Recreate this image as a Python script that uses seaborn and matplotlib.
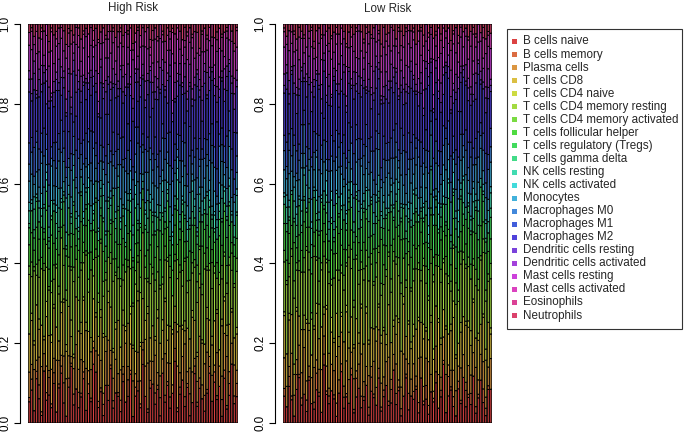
import colorsys
import numpy as np
import pandas as pd
import matplotlib
matplotlib.use("Agg")
import matplotlib.pyplot as plt
import seaborn as sns
from matplotlib.patches import Rectangle

# ---------------- data ----------------
CELL_TYPES = ["B cells naive", "B cells memory", "Plasma cells", "T cells CD8",
              "T cells CD4 naive", "T cells CD4 memory resting",
              "T cells CD4 memory activated", "T cells follicular helper",
              "T cells regulatory (Tregs)", "T cells gamma delta",
              "NK cells resting", "NK cells activated", "Monocytes",
              "Macrophages M0", "Macrophages M1", "Macrophages M2",
              "Dendritic cells resting", "Dendritic cells activated",
              "Mast cells resting", "Mast cells activated", "Eosinophils",
              "Neutrophils"]
GROUP_TITLES = ["High Risk", "Low Risk"]
Y_TICKS = [0.0, 0.2, 0.4, 0.6, 0.8, 1.0]
Y_TICK_LABELS = ["0.0", "0.2", "0.4", "0.6", "0.8", "1.0"]

# High Risk samples (relative amounts, %)
HR_B_NAIVE = [5, 9, 3, 12, 7, 2, 15, 6, 8, 4, 11, 3, 9, 14, 6, 2, 8, 17, 5, 10, 4, 7, 13, 3, 9, 6, 18, 12, 5, 8, 2, 10, 6, 15, 4, 9, 7, 3, 11, 5, 8, 13, 2, 6, 10, 4, 16, 7, 3, 9, 12, 5, 8, 2, 14, 6, 10, 4, 7, 19, 3, 8, 11, 5, 9, 2, 6, 13, 4, 10, 7, 3, 8, 15, 5, 12, 6, 9, 2, 11, 4, 7, 17, 5, 8]
HR_B_MEMORY = [1, 3, 0, 2, 4, 1, 0, 2, 5, 1, 3, 0, 1, 2, 6, 0, 2, 1, 3, 0, 4, 1, 2, 0, 3, 1, 5, 0, 2, 1, 3, 0, 4, 1, 2, 0, 1, 3, 2, 0, 5, 1, 0, 2, 3, 1, 4, 0, 1, 2, 0, 3, 1, 5, 0, 2, 1, 3, 0, 4, 1, 2, 0, 3, 1, 6, 0, 2, 1, 3, 0, 4, 1, 2, 0, 3, 1, 0, 5, 2, 1, 3, 0, 2, 4]
HR_PLASMA = [6, 4, 10, 3, 8, 12, 5, 7, 2, 9, 4, 14, 6, 3, 8, 11, 5, 2, 7, 13, 6, 9, 3, 10, 4, 8, 2, 5, 15, 7, 3, 9, 12, 4, 6, 10, 5, 8, 2, 14, 4, 7, 11, 3, 9, 6, 2, 8, 13, 5, 7, 10, 3, 6, 4, 12, 5, 9, 2, 8, 11, 4, 6, 16, 3, 7, 9, 2, 5, 12, 4, 8, 10, 3, 6, 2, 11, 5, 7, 9, 14, 3, 6, 8, 4]
HR_CD8 = [9, 12, 6, 15, 8, 11, 4, 13, 10, 7, 14, 9, 5, 12, 16, 8, 11, 6, 3, 14, 10, 7, 18, 9, 12, 5, 13, 8, 6, 11, 15, 4, 10, 12, 7, 9, 14, 6, 11, 3, 13, 8, 10, 5, 16, 9, 12, 7, 14, 6, 11, 4, 13, 9, 8, 15, 6, 10, 12, 5, 9, 13, 7, 4, 11, 8, 16, 10, 6, 14, 12, 5, 9, 11, 7, 13, 10, 4, 15, 8, 6, 12, 9, 7, 11]
HR_CD4_NAIVE = [0, 2, 1, 0, 3, 0, 1, 4, 0, 2, 1, 0, 0, 3, 1, 2, 0, 5, 1, 0, 0, 3, 1, 2, 0, 4, 0, 1, 0, 2, 1, 0, 3, 0, 1, 2, 0, 0, 4, 1, 0, 2, 1, 0, 3, 1, 0, 5, 2, 0, 0, 1, 2, 0, 3, 1, 4, 0, 1, 0, 2, 0, 1, 3, 0, 0, 2, 0, 1, 4, 1, 0, 3, 0, 2, 0, 1, 0, 2, 1, 3, 0, 1, 0, 2]
HR_CD4_MEM_REST = [14, 10, 17, 8, 12, 15, 19, 9, 13, 11, 7, 16, 12, 18, 10, 13, 9, 15, 20, 11, 8, 14, 10, 16, 12, 19, 7, 13, 11, 17, 10, 15, 9, 12, 18, 14, 11, 16, 8, 13, 17, 10, 12, 15, 9, 13, 18, 11, 7, 14, 16, 12, 9, 15, 10, 11, 17, 13, 8, 14, 12, 15, 10, 18, 9, 16, 11, 14, 12, 7, 13, 19, 10, 15, 11, 14, 8, 16, 12, 10, 9, 15, 11, 13, 17]
HR_CD4_MEM_ACT = [2, 4, 1, 3, 5, 0, 2, 6, 1, 3, 4, 1, 2, 0, 5, 3, 2, 1, 4, 0, 6, 2, 3, 1, 4, 0, 5, 2, 3, 1, 4, 2, 0, 3, 6, 1, 3, 2, 4, 0, 2, 5, 1, 3, 2, 4, 0, 3, 1, 5, 2, 3, 6, 1, 2, 4, 1, 3, 0, 2, 5, 2, 4, 1, 3, 0, 3, 2, 5, 1, 3, 4, 1, 2, 6, 2, 0, 3, 4, 1, 3, 2, 5, 1, 4]
HR_TFH = [5, 8, 4, 10, 6, 3, 7, 9, 5, 12, 6, 4, 8, 3, 7, 10, 5, 6, 9, 4, 7, 11, 3, 6, 8, 5, 9, 4, 12, 6, 8, 3, 7, 5, 10, 4, 6, 9, 7, 3, 8, 5, 11, 6, 4, 7, 9, 3, 8, 5, 10, 6, 4, 7, 12, 5, 8, 3, 6, 9, 4, 7, 10, 5, 6, 8, 3, 9, 4, 7, 11, 6, 5, 8, 3, 7, 4, 9, 6, 10, 5, 8, 3, 7, 6]
HR_TREGS = [4, 6, 3, 7, 5, 8, 2, 5, 6, 4, 9, 3, 6, 5, 7, 2, 6, 4, 8, 5, 3, 7, 5, 4, 10, 6, 3, 7, 5, 2, 8, 4, 6, 3, 7, 5, 9, 4, 6, 3, 7, 5, 2, 8, 4, 6, 3, 7, 5, 9, 4, 6, 3, 8, 5, 2, 7, 4, 6, 5, 9, 3, 5, 7, 4, 6, 8, 2, 5, 3, 7, 4, 6, 9, 5, 3, 6, 4, 7, 2, 8, 5, 6, 3, 7]
HR_TGD = [1, 0, 2, 1, 0, 3, 1, 0, 2, 1, 0, 4, 1, 0, 2, 1, 0, 3, 1, 0, 2, 1, 0, 1, 5, 0, 2, 1, 0, 3, 1, 0, 2, 1, 0, 4, 1, 0, 2, 1, 0, 3, 1, 0, 2, 1, 0, 1, 4, 0, 2, 1, 0, 3, 1, 0, 2, 1, 0, 1, 3, 0, 2, 1, 0, 1, 4, 0, 2, 1, 0, 1, 3, 0, 2, 1, 0, 2, 1, 0, 5, 1, 0, 2, 1]
HR_NK_REST = [3, 2, 5, 1, 4, 2, 6, 3, 1, 4, 2, 3, 5, 2, 1, 4, 3, 2, 6, 3, 1, 4, 2, 3, 5, 2, 1, 4, 3, 2, 6, 3, 1, 4, 2, 3, 5, 2, 1, 4, 3, 2, 7, 3, 1, 4, 2, 3, 5, 2, 1, 4, 3, 2, 6, 3, 1, 4, 2, 3, 5, 2, 1, 4, 3, 2, 6, 3, 1, 4, 2, 3, 5, 2, 1, 4, 3, 2, 6, 3, 1, 4, 2, 3, 5]
HR_NK_ACT = [2, 1, 3, 0, 2, 4, 1, 2, 3, 0, 1, 2, 5, 1, 3, 0, 2, 1, 4, 2, 3, 0, 2, 1, 3, 5, 2, 0, 1, 2, 3, 1, 4, 2, 0, 2, 3, 1, 0, 4, 2, 1, 3, 2, 5, 0, 2, 1, 3, 2, 4, 1, 0, 2, 3, 1, 2, 4, 1, 0, 3, 2, 1, 5, 2, 0, 3, 2, 1, 2, 4, 0, 1, 3, 2, 1, 2, 0, 4, 1, 3, 2, 1, 0, 2]
HR_MONO = [5, 7, 3, 6, 4, 8, 5, 2, 6, 9, 4, 5, 7, 3, 6, 10, 4, 5, 3, 7, 6, 2, 8, 5, 4, 7, 6, 3, 9, 5, 4, 8, 5, 2, 6, 7, 3, 5, 10, 4, 6, 5, 8, 3, 7, 4, 6, 2, 5, 9, 5, 7, 4, 6, 3, 8, 5, 6, 4, 7, 3, 9, 5, 6, 4, 7, 2, 5, 8, 6, 4, 5, 7, 3, 10, 6, 4, 5, 7, 3, 5, 8, 4, 6, 5]
HR_M0 = [4, 6, 2, 8, 5, 3, 9, 4, 6, 2, 7, 5, 3, 10, 4, 6, 2, 8, 5, 3, 9, 4, 6, 2, 7, 5, 11, 3, 6, 4, 2, 7, 5, 8, 3, 6, 4, 9, 2, 5, 7, 3, 6, 4, 12, 5, 2, 8, 6, 3, 4, 7, 5, 2, 9, 6, 3, 5, 8, 4, 2, 6, 4, 7, 5, 10, 3, 6, 4, 2, 8, 5, 3, 6, 4, 7, 2, 9, 5, 3, 6, 4, 8, 2, 5]
HR_M1 = [5, 4, 7, 3, 6, 5, 8, 4, 6, 3, 5, 7, 4, 9, 5, 3, 6, 5, 4, 8, 5, 3, 7, 6, 4, 9, 5, 3, 6, 7, 4, 5, 8, 3, 6, 5, 4, 7, 6, 3, 8, 5, 4, 6, 5, 7, 3, 6, 4, 8, 5, 6, 3, 7, 4, 6, 5, 9, 3, 5, 4, 7, 5, 6, 3, 8, 4, 5, 7, 6, 3, 5, 4, 8, 5, 6, 7, 3, 5, 4, 9, 5, 6, 4, 7]
HR_M2 = [12, 10, 14, 9, 15, 11, 13, 8, 16, 12, 10, 14, 11, 7, 13, 15, 9, 12, 14, 10, 13, 11, 16, 8, 12, 10, 14, 12, 15, 9, 13, 11, 8, 14, 12, 16, 10, 13, 9, 15, 11, 12, 14, 10, 8, 13, 15, 11, 12, 9, 14, 10, 13, 16, 11, 12, 8, 15, 11, 13, 10, 14, 12, 9, 16, 11, 13, 10, 15, 12, 8, 14, 11, 13, 10, 15, 12, 9, 14, 11, 13, 10, 16, 12, 14]
HR_DC_REST = [3, 2, 4, 1, 5, 2, 3, 6, 2, 1, 4, 3, 2, 5, 3, 1, 4, 2, 3, 7, 2, 3, 1, 4, 2, 5, 3, 2, 1, 4, 3, 6, 2, 3, 1, 4, 2, 5, 3, 2, 1, 3, 4, 2, 6, 3, 1, 2, 4, 3, 5, 2, 3, 1, 4, 2, 6, 3, 2, 1, 4, 3, 2, 5, 3, 1, 2, 4, 3, 2, 6, 3, 1, 4, 2, 3, 5, 2, 1, 3, 4, 2, 3, 6, 2]
HR_DC_ACT = [2, 4, 3, 1, 3, 5, 2, 3, 4, 1, 3, 2, 6, 3, 2, 4, 1, 3, 2, 5, 3, 4, 2, 1, 3, 2, 6, 3, 4, 2, 1, 3, 5, 2, 4, 3, 2, 1, 4, 3, 6, 2, 3, 1, 4, 2, 3, 5, 2, 1, 3, 4, 2, 6, 3, 1, 2, 4, 3, 5, 2, 3, 1, 4, 2, 5, 3, 2, 1, 3, 4, 2, 6, 3, 1, 2, 4, 3, 2, 5, 3, 1, 2, 4, 3]
HR_MAST_REST = [6, 8, 4, 10, 5, 7, 3, 9, 6, 11, 5, 7, 4, 8, 6, 12, 5, 7, 3, 9, 6, 4, 8, 10, 5, 7, 3, 6, 9, 4, 11, 6, 5, 8, 7, 4, 9, 6, 3, 10, 5, 7, 12, 6, 4, 8, 5, 9, 7, 3, 6, 10, 4, 8, 5, 7, 6, 3, 11, 6, 9, 4, 7, 5, 8, 6, 12, 5, 4, 7, 10, 3, 6, 8, 5, 4, 9, 7, 6, 3, 8, 5, 10, 4, 7]
HR_MAST_ACT = [3, 5, 2, 6, 4, 2, 7, 3, 4, 5, 8, 2, 4, 3, 6, 4, 3, 9, 2, 5, 3, 6, 4, 2, 7, 5, 2, 4, 10, 3, 4, 5, 2, 6, 3, 7, 4, 3, 5, 2, 4, 6, 3, 2, 8, 3, 5, 4, 6, 2, 7, 3, 5, 4, 2, 6, 4, 2, 5, 9, 3, 5, 4, 2, 6, 4, 3, 7, 5, 2, 5, 6, 3, 4, 2, 8, 3, 5, 4, 6, 2, 4, 3, 7, 5]
HR_EOS = [0, 1, 0, 2, 0, 1, 0, 0, 3, 1, 0, 2, 0, 1, 0, 0, 1, 4, 0, 1, 2, 0, 1, 0, 0, 1, 3, 0, 1, 0, 0, 1, 2, 0, 1, 0, 0, 1, 3, 0, 1, 0, 2, 0, 1, 0, 1, 0, 0, 2, 3, 0, 1, 0, 1, 0, 2, 0, 1, 0, 1, 0, 0, 4, 1, 0, 1, 2, 0, 0, 1, 0, 1, 0, 3, 0, 2, 0, 1, 0, 1, 0, 0, 2, 1]
HR_NEUTRO = [2, 1, 3, 0, 4, 1, 2, 0, 5, 1, 3, 2, 1, 0, 2, 6, 1, 2, 3, 0, 1, 4, 2, 1, 3, 0, 2, 1, 5, 2, 1, 3, 0, 2, 1, 4, 2, 1, 3, 0, 2, 1, 6, 2, 1, 3, 0, 2, 1, 4, 2, 1, 3, 0, 2, 5, 1, 2, 1, 3, 0, 2, 4, 1, 2, 1, 3, 0, 2, 7, 2, 1, 3, 1, 0, 4, 2, 1, 3, 2, 1, 0, 2, 5, 1]

# Low Risk samples (relative amounts, %)
LR_B_NAIVE = [7, 4, 11, 6, 2, 9, 14, 5, 8, 3, 12, 6, 4, 10, 7, 3, 16, 8, 5, 11, 6, 2, 9, 13, 4, 8, 5, 15, 3, 7, 10, 4, 6, 12, 2, 9, 7, 5, 14, 3, 8, 11, 4, 6, 17, 5, 9, 2, 7, 12, 4, 8, 6, 10, 3, 13, 5, 7, 2, 9, 6, 11, 4, 8, 15, 3, 7, 10, 5, 2, 9, 6, 12, 4, 8, 5, 14, 3, 7, 10, 6, 2, 9, 11]
LR_B_MEMORY = [2, 0, 3, 1, 0, 4, 1, 2, 0, 3, 1, 0, 2, 5, 1, 0, 3, 1, 2, 0, 1, 4, 0, 2, 3, 1, 0, 2, 1, 5, 0, 3, 1, 0, 2, 4, 1, 0, 3, 1, 2, 0, 1, 4, 0, 3, 1, 2, 0, 1, 5, 0, 2, 1, 3, 0, 1, 4, 2, 0, 1, 3, 0, 2, 1, 0, 5, 1, 3, 0, 2, 1, 0, 4, 1, 3, 0, 2, 1, 0, 4, 2, 1, 0]
LR_PLASMA = [8, 5, 3, 11, 6, 4, 9, 7, 13, 5, 3, 8, 10, 4, 6, 12, 5, 7, 2, 9, 6, 14, 4, 8, 3, 10, 6, 5, 9, 2, 7, 11, 4, 6, 8, 3, 9, 5, 12, 6, 4, 7, 10, 3, 5, 8, 2, 6, 11, 4, 9, 5, 7, 3, 13, 6, 4, 8, 10, 5, 2, 7, 9, 4, 6, 11, 3, 5, 8, 7, 4, 10, 6, 2, 9, 5, 7, 12, 4, 6, 8, 3, 5, 10]
LR_CD8 = [11, 8, 14, 10, 6, 13, 9, 12, 5, 15, 10, 7, 11, 14, 8, 12, 6, 16, 9, 11, 7, 13, 10, 4, 12, 15, 8, 11, 9, 14, 6, 12, 10, 17, 8, 11, 9, 13, 7, 10, 14, 5, 12, 11, 9, 8, 16, 10, 13, 6, 12, 9, 7, 14, 11, 10, 13, 8, 5, 15, 9, 11, 14, 10, 7, 13, 8, 12, 16, 9, 6, 11, 10, 14, 12, 8, 15, 9, 11, 7, 13, 10, 12, 8]
LR_CD4_NAIVE = [1, 0, 2, 0, 3, 1, 0, 0, 4, 1, 2, 0, 1, 3, 0, 0, 2, 1, 0, 5, 1, 0, 3, 1, 0, 2, 4, 0, 1, 0, 3, 1, 0, 2, 1, 0, 0, 4, 1, 2, 1, 3, 0, 0, 2, 5, 1, 0, 2, 0, 1, 2, 3, 0, 1, 0, 4, 1, 0, 2, 3, 0, 1, 2, 0, 1, 0, 2, 5, 1, 0, 3, 0, 1, 2, 4, 1, 0, 2, 0, 1, 3, 0, 2]
LR_CD4_MEM_REST = [13, 17, 11, 15, 19, 10, 14, 16, 12, 18, 15, 11, 20, 13, 9, 16, 14, 12, 18, 11, 15, 13, 17, 10, 14, 12, 19, 15, 11, 16, 14, 9, 17, 13, 15, 18, 12, 14, 16, 10, 13, 17, 11, 15, 19, 14, 12, 16, 10, 13, 17, 15, 11, 18, 14, 12, 16, 13, 9, 15, 19, 11, 14, 17, 12, 15, 13, 10, 16, 14, 11, 18, 15, 13, 17, 14, 10, 16, 12, 15, 18, 13, 11, 16]
LR_CD4_MEM_ACT = [3, 1, 4, 2, 5, 2, 3, 0, 4, 1, 5, 2, 3, 1, 6, 2, 4, 1, 3, 2, 0, 5, 3, 2, 4, 1, 3, 6, 2, 1, 4, 2, 3, 5, 0, 3, 1, 4, 2, 3, 6, 2, 1, 4, 3, 2, 5, 3, 0, 2, 4, 1, 3, 6, 2, 3, 2, 5, 1, 4, 2, 3, 0, 4, 1, 5, 2, 3, 1, 6, 3, 4, 2, 1, 3, 0, 2, 5, 3, 1, 4, 3, 2, 5]
LR_TFH = [7, 5, 9, 6, 11, 4, 8, 6, 10, 5, 7, 12, 4, 8, 6, 9, 5, 7, 3, 10, 6, 8, 11, 5, 7, 4, 9, 6, 12, 5, 8, 3, 7, 10, 6, 5, 9, 4, 8, 11, 6, 7, 5, 10, 4, 8, 6, 12, 5, 7, 3, 9, 6, 8, 5, 11, 4, 7, 6, 10, 5, 8, 3, 9, 7, 6, 12, 5, 8, 4, 10, 6, 7, 5, 9, 4, 8, 11, 6, 7, 5, 10, 6, 8]
LR_TREGS = [5, 7, 4, 8, 6, 3, 9, 5, 6, 4, 7, 5, 10, 3, 6, 8, 4, 6, 5, 9, 3, 7, 5, 4, 8, 6, 2, 7, 5, 10, 4, 6, 8, 3, 5, 9, 4, 7, 6, 3, 5, 8, 4, 10, 6, 7, 3, 5, 8, 4, 6, 9, 5, 3, 7, 4, 6, 8, 5, 2, 9, 5, 6, 4, 7, 3, 8, 5, 7, 6, 4, 10, 3, 6, 5, 8, 4, 7, 5, 9, 6, 3, 5, 7]
LR_TGD = [0, 2, 1, 0, 1, 3, 0, 2, 1, 0, 1, 4, 0, 2, 1, 0, 1, 3, 0, 2, 1, 0, 1, 5, 0, 2, 1, 0, 3, 1, 0, 2, 1, 0, 4, 1, 0, 2, 1, 0, 3, 1, 0, 2, 1, 0, 4, 1, 0, 2, 1, 0, 3, 1, 0, 2, 1, 0, 1, 4, 0, 2, 1, 3, 0, 1, 0, 2, 1, 5, 0, 1, 3, 0, 2, 1, 0, 1, 4, 0, 2, 1, 0, 3]
LR_NK_REST = [2, 4, 3, 1, 5, 3, 2, 4, 6, 1, 3, 5, 2, 4, 3, 1, 4, 2, 3, 6, 2, 3, 5, 1, 4, 3, 2, 4, 3, 1, 5, 3, 2, 6, 4, 1, 3, 4, 2, 3, 5, 2, 1, 4, 3, 2, 6, 3, 1, 4, 3, 2, 5, 4, 2, 1, 3, 4, 2, 7, 3, 1, 4, 3, 2, 5, 4, 2, 1, 3, 4, 2, 6, 3, 1, 3, 5, 2, 4, 2, 1, 4, 3, 5]
LR_NK_ACT = [1, 3, 2, 0, 4, 2, 1, 3, 2, 0, 5, 2, 1, 3, 2, 1, 0, 4, 2, 3, 2, 1, 0, 3, 5, 1, 2, 4, 0, 2, 3, 1, 2, 1, 4, 0, 3, 2, 5, 1, 2, 0, 3, 2, 1, 4, 2, 1, 0, 3, 2, 5, 1, 2, 0, 3, 1, 4, 2, 1, 0, 2, 3, 1, 4, 2, 1, 0, 5, 2, 3, 2, 1, 0, 3, 1, 4, 2, 3, 0, 2, 1, 3, 2]
LR_MONO = [6, 4, 8, 5, 3, 7, 5, 9, 4, 6, 3, 7, 5, 10, 4, 6, 8, 3, 5, 7, 4, 6, 9, 5, 2, 8, 5, 4, 7, 6, 3, 10, 5, 6, 4, 7, 5, 3, 8, 6, 4, 9, 5, 2, 7, 6, 4, 8, 5, 3, 10, 6, 4, 7, 5, 3, 8, 6, 4, 9, 5, 7, 3, 6, 4, 8, 5, 10, 4, 6, 3, 7, 5, 8, 4, 6, 2, 9, 5, 7, 4, 6, 3, 8]
LR_M0 = [5, 3, 7, 4, 9, 2, 6, 4, 8, 5, 3, 10, 5, 2, 7, 4, 6, 3, 8, 5, 11, 4, 6, 2, 7, 5, 3, 8, 4, 6, 9, 2, 5, 7, 3, 6, 4, 10, 5, 2, 7, 5, 3, 6, 8, 4, 2, 6, 9, 5, 3, 7, 4, 5, 12, 6, 3, 5, 8, 4, 2, 6, 7, 3, 5, 9, 4, 6, 2, 7, 5, 8, 3, 6, 4, 10, 5, 2, 7, 3, 6, 4, 8, 5]
LR_M1 = [4, 6, 5, 7, 3, 6, 5, 8, 4, 5, 7, 3, 6, 5, 9, 4, 6, 5, 3, 7, 5, 8, 4, 6, 5, 3, 7, 5, 9, 4, 6, 5, 3, 7, 6, 4, 8, 5, 6, 3, 7, 5, 4, 6, 9, 5, 3, 7, 4, 6, 8, 5, 6, 3, 5, 7, 4, 6, 5, 3, 9, 6, 4, 7, 5, 3, 6, 8, 5, 4, 6, 7, 3, 5, 8, 4, 5, 6, 7, 3, 5, 8, 4, 6]
LR_M2 = [11, 13, 9, 14, 12, 10, 15, 12, 8, 13, 11, 14, 10, 16, 12, 9, 13, 11, 14, 10, 15, 12, 8, 13, 11, 14, 10, 12, 16, 9, 13, 11, 15, 10, 12, 8, 14, 12, 11, 16, 10, 13, 9, 15, 12, 11, 14, 10, 8, 13, 12, 16, 11, 13, 10, 14, 9, 12, 15, 11, 13, 10, 14, 12, 8, 16, 11, 13, 10, 14, 12, 9, 15, 11, 13, 10, 14, 12, 16, 9, 13, 11, 15, 12]
LR_DC_REST = [2, 4, 3, 1, 3, 5, 2, 3, 1, 4, 2, 6, 3, 2, 1, 4, 3, 2, 5, 3, 1, 2, 4, 3, 6, 2, 3, 1, 4, 2, 5, 3, 2, 1, 3, 4, 2, 6, 3, 1, 2, 4, 3, 2, 5, 3, 1, 2, 4, 3, 2, 5, 3, 1, 4, 3, 2, 6, 2, 3, 1, 4, 2, 3, 5, 2, 3, 1, 4, 2, 6, 3, 2, 1, 4, 3, 2, 5, 3, 1, 2, 4, 3, 2]
LR_DC_ACT = [3, 2, 4, 1, 5, 2, 3, 1, 4, 2, 6, 3, 2, 1, 3, 4, 2, 5, 3, 1, 2, 4, 3, 6, 2, 3, 1, 2, 4, 3, 5, 2, 3, 1, 4, 2, 6, 3, 2, 1, 3, 4, 2, 5, 3, 1, 2, 4, 3, 2, 6, 3, 1, 2, 4, 3, 5, 2, 3, 1, 4, 2, 3, 6, 2, 1, 3, 4, 2, 5, 3, 2, 1, 4, 3, 2, 6, 3, 1, 2, 4, 3, 5, 2]
LR_MAST_REST = [7, 5, 9, 6, 4, 10, 6, 8, 3, 7, 5, 11, 6, 4, 8, 7, 5, 9, 6, 12, 4, 8, 6, 3, 7, 9, 5, 10, 6, 4, 8, 7, 3, 11, 5, 6, 9, 4, 7, 6, 12, 5, 8, 4, 7, 6, 10, 3, 8, 5, 7, 4, 9, 6, 11, 5, 8, 6, 3, 7, 10, 4, 6, 9, 5, 7, 3, 8, 12, 6, 4, 9, 5, 7, 6, 11, 4, 8, 5, 7, 3, 9, 6, 10]
LR_MAST_ACT = [4, 2, 6, 3, 5, 3, 7, 2, 4, 6, 2, 5, 3, 8, 4, 6, 3, 4, 2, 7, 5, 3, 9, 4, 2, 6, 4, 3, 5, 7, 2, 5, 4, 6, 3, 8, 3, 5, 2, 4, 6, 4, 3, 7, 5, 2, 6, 4, 3, 9, 4, 5, 2, 6, 3, 7, 4, 5, 3, 2, 6, 3, 8, 4, 5, 2, 4, 6, 3, 7, 5, 3, 4, 2, 6, 4, 8, 3, 5, 2, 6, 4, 3, 5]
LR_EOS = [1, 0, 0, 2, 1, 0, 3, 0, 1, 0, 0, 1, 2, 0, 0, 1, 0, 0, 4, 1, 0, 2, 0, 1, 0, 1, 0, 3, 0, 1, 0, 0, 1, 2, 0, 1, 0, 0, 1, 3, 0, 2, 0, 1, 0, 0, 1, 4, 0, 1, 2, 0, 1, 0, 0, 1, 3, 0, 1, 0, 0, 1, 0, 2, 1, 0, 0, 3, 1, 0, 2, 1, 0, 0, 1, 0, 2, 1, 0, 0, 3, 0, 1, 0]
LR_NEUTRO = [1, 3, 2, 0, 2, 4, 1, 2, 3, 0, 2, 1, 5, 2, 1, 3, 0, 2, 1, 4, 2, 1, 3, 0, 2, 6, 2, 1, 3, 1, 0, 2, 4, 1, 2, 3, 1, 0, 2, 5, 1, 3, 2, 0, 2, 4, 1, 2, 3, 1, 0, 2, 1, 6, 2, 1, 3, 0, 2, 1, 4, 2, 1, 3, 0, 2, 1, 5, 2, 1, 3, 0, 2, 1, 4, 2, 1, 3, 0, 2, 1, 4, 2, 3]

HIGH_RISK = [HR_B_NAIVE, HR_B_MEMORY, HR_PLASMA, HR_CD8, HR_CD4_NAIVE,
             HR_CD4_MEM_REST, HR_CD4_MEM_ACT, HR_TFH, HR_TREGS, HR_TGD,
             HR_NK_REST, HR_NK_ACT, HR_MONO, HR_M0, HR_M1, HR_M2,
             HR_DC_REST, HR_DC_ACT, HR_MAST_REST, HR_MAST_ACT, HR_EOS,
             HR_NEUTRO]
LOW_RISK = [LR_B_NAIVE, LR_B_MEMORY, LR_PLASMA, LR_CD8, LR_CD4_NAIVE,
            LR_CD4_MEM_REST, LR_CD4_MEM_ACT, LR_TFH, LR_TREGS, LR_TGD,
            LR_NK_REST, LR_NK_ACT, LR_MONO, LR_M0, LR_M1, LR_M2,
            LR_DC_REST, LR_DC_ACT, LR_MAST_REST, LR_MAST_ACT, LR_EOS,
            LR_NEUTRO]

# ---------------- style ----------------
sns.set_style("ticks")
plt.rcParams["font.family"] = ["Liberation Sans", "DejaVu Sans"]
FS = 8.4

W, H = 685, 433
# rainbow-style palette (22 evenly spaced hues)
COLORS = [colorsys.hsv_to_rgb(i / 22.0, 0.7, 0.86) for i in range(22)]
PALETTE = dict(zip(CELL_TYPES, COLORS))

fig = plt.figure(figsize=(W / 100, H / 100), dpi=100)


def fx(x):
    return x / W


def fy(y):
    return 1 - y / H


def panel(left_px, right_px, series, title):
    ax = fig.add_axes([fx(left_px), fy(423), (right_px - left_px) / W, 399 / H])
    n = min(len(s) for s in series)
    arr = np.array([s[:n] for s in series], dtype=float)
    arr = arr / arr.sum(axis=0)
    df = pd.DataFrame({
        "sample": np.tile(np.arange(n), len(CELL_TYPES)),
        "cell": np.repeat(CELL_TYPES, n),
        "frac": arr.ravel(),
    })
    sns.histplot(data=df, x="sample", weights="frac", hue="cell",
                 hue_order=CELL_TYPES[::-1], palette=PALETTE,
                 multiple="stack", discrete=True, shrink=0.83,
                 edgecolor="black", linewidth=0.75, alpha=1.0,
                 snap=False, legend=False, ax=ax)
    ax.set_xlim(-0.5, n - 0.5)
    ax.set_ylim(0, 1)
    ax.set_xticks([])
    ax.set_xlabel("")
    ax.set_ylabel("")
    for s in ("top", "right", "bottom"):
        ax.spines[s].set_visible(False)
    ax.spines["left"].set_position(("outward", 8 * 0.72))
    ax.spines["left"].set_bounds(0, 1)
    ax.spines["left"].set_linewidth(0.8)
    ax.spines["left"].set_color("black")
    ax.set_yticks(Y_TICKS)
    ax.set_yticklabels(Y_TICK_LABELS, rotation=90, va="center")
    ax.tick_params(axis="y", length=4.3, width=0.8, pad=2.0, labelsize=FS,
                   colors="black")
    ax.text(0.5, 1 + 15.5 / 399, title, transform=ax.transAxes,
            ha="center", va="center", fontsize=FS)
    return ax


panel(28, 238, HIGH_RISK, GROUP_TITLES[0])
panel(283, 492, LOW_RISK, GROUP_TITLES[1])

# legend box
fig.patches.append(Rectangle((fx(507), fy(329)), (682 - 507) / W, (329 - 29) / H,
                             transform=fig.transFigure, fill=False,
                             edgecolor="#333333", linewidth=0.8))
for i, (name, col) in enumerate(zip(CELL_TYPES, COLORS)):
    yc = 41.5 + 13.05 * i
    fig.patches.append(Rectangle((fx(512), fy(yc + 2.5)), 5 / W, 5 / H,
                                 transform=fig.transFigure, facecolor=col,
                                 edgecolor="none"))
    fig.text(fx(523), fy(yc), name, ha="left", va="center", fontsize=FS)

fig.savefig("out.png", dpi=100)
